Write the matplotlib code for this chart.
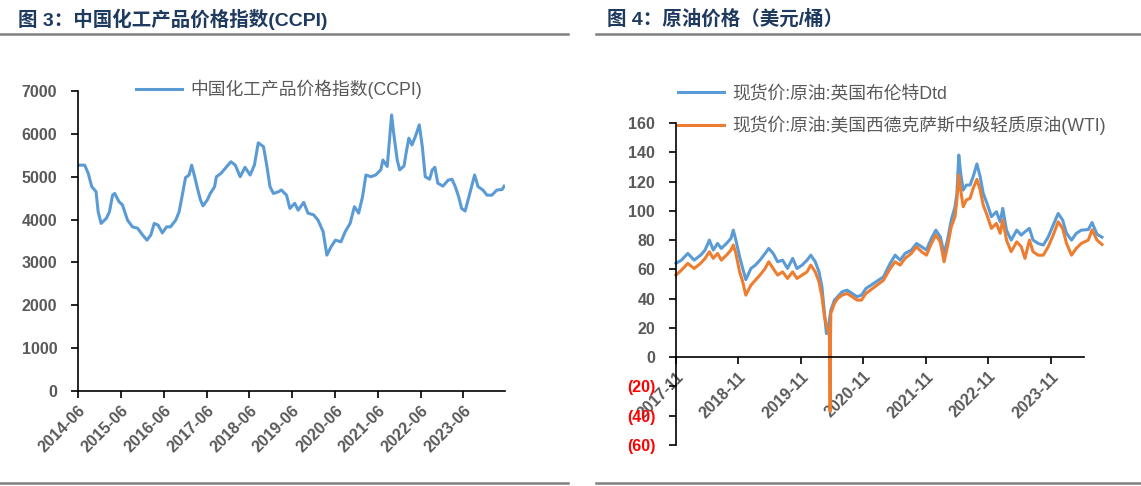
import matplotlib
matplotlib.use("Agg")
import matplotlib.pyplot as plt
import pandas as pd

plt.rcParams['font.family'] = ['Liberation Sans', 'Noto Sans CJK SC', 'DejaVu Sans']

# ---- data: CCPI ----
ccpi_dates = ["2014-06-01", "2014-07-28", "2014-08-27", "2014-09-26", "2014-11-02", "2014-11-20",
              "2014-12-15", "2015-01-29", "2015-02-24", "2015-03-23", "2015-04-10", "2015-05-16",
              "2015-06-15", "2015-07-28", "2015-09-08", "2015-10-21", "2015-12-04", "2016-01-10",
              "2016-02-12", "2016-03-12", "2016-04-14", "2016-05-20", "2016-06-26", "2016-07-29",
              "2016-09-12", "2016-10-10", "2016-11-09", "2016-12-04", "2017-01-03", "2017-01-25",
              "2017-02-20", "2017-03-19", "2017-04-10", "2017-05-02", "2017-06-08", "2017-07-03",
              "2017-08-09", "2017-08-24", "2017-10-03", "2017-11-09", "2017-12-26", "2018-02-01",
              "2018-03-15", "2018-04-25", "2018-06-08", "2018-07-14", "2018-08-16", "2018-09-30",
              "2018-10-29", "2018-11-24", "2018-12-23", "2019-02-05", "2019-03-01", "2019-04-14",
              "2019-05-13", "2019-06-23", "2019-07-22", "2019-09-08", "2019-10-14", "2019-12-01",
              "2020-01-07", "2020-02-20", "2020-03-23", "2020-04-29", "2020-06-04", "2020-07-21",
              "2020-08-27", "2020-10-07", "2020-11-13", "2020-12-19", "2021-01-21", "2021-02-19",
              "2021-04-03", "2021-05-13", "2021-06-26", "2021-07-14", "2021-08-20", "2021-09-26",
              "2021-10-14", "2021-11-13", "2021-12-04", "2022-01-10", "2022-01-25", "2022-02-20",
              "2022-03-19", "2022-04-21", "2022-05-20", "2022-06-15", "2022-07-10", "2022-08-16",
              "2022-09-08", "2022-09-30", "2022-10-25", "2022-12-08", "2023-01-21", "2023-02-23",
              "2023-03-23", "2023-04-21", "2023-05-16", "2023-06-15", "2023-07-21", "2023-09-04",
              "2023-10-03", "2023-11-13", "2023-12-19", "2024-01-29", "2024-03-12", "2024-04-25",
              "2024-05-13"]
ccpi_values = [5270, 5270, 5080, 4770, 4650, 4180, 3910, 4030, 4180, 4570, 4610, 4420,
               4340, 3990, 3830, 3800, 3640, 3520, 3640, 3910, 3870, 3690, 3830, 3830,
               3990, 4180, 4610, 4980, 5040, 5270, 5000, 4690, 4460, 4320, 4460, 4610,
               4770, 5000, 5080, 5200, 5350, 5270, 5000, 5220, 5040, 5270, 5790, 5700,
               5240, 4770, 4610, 4650, 4690, 4570, 4260, 4380, 4220, 4400, 4150, 4110,
               3990, 3720, 3170, 3370, 3520, 3480, 3720, 3910, 4300, 4150, 4530, 5040,
               5000, 5040, 5160, 5390, 5240, 6440, 6010, 5390, 5160, 5250, 5510, 5900,
               5740, 5970, 6210, 5700, 5000, 4940, 5160, 5220, 4850, 4780, 4920, 4940,
               4770, 4530, 4260, 4200, 4570, 5040, 4770, 4690, 4570, 4570, 4690, 4700,
               4780]
ccpi_label = "中国化工产品价格指数(CCPI)"
ccpi_ticks = ["2014-06", "2015-06", "2016-06", "2017-06", "2018-06", "2019-06",
              "2020-06", "2021-06", "2022-06", "2023-06"]

# ---- data: crude oil ----
brent_dates = ["2017-11-01", "2017-12-03", "2018-01-09", "2018-02-15", "2018-03-25", "2018-04-20",
               "2018-05-15", "2018-06-07", "2018-07-02", "2018-07-24", "2018-08-23", "2018-09-18",
               "2018-10-02", "2018-10-17", "2018-11-08", "2018-11-26", "2018-12-14", "2019-01-13",
               "2019-02-08", "2019-03-07", "2019-04-06", "2019-04-27", "2019-05-23", "2019-06-18",
               "2019-07-17", "2019-08-15", "2019-09-14", "2019-10-09", "2019-11-08", "2019-12-07",
               "2019-12-29", "2020-01-24", "2020-02-15", "2020-03-03", "2020-03-18", "2020-03-29",
               "2020-04-09", "2020-04-24", "2020-05-15", "2020-06-03", "2020-06-29", "2020-07-28",
               "2020-08-27", "2020-09-25", "2020-10-20", "2020-11-15", "2021-02-26", "2021-04-06",
               "2021-05-05", "2021-06-03", "2021-07-02", "2021-08-08", "2021-09-07", "2021-10-06",
               "2021-11-04", "2021-12-03", "2021-12-29", "2022-01-24", "2022-02-15", "2022-03-07",
               "2022-03-29", "2022-04-20", "2022-05-01", "2022-05-12", "2022-05-23", "2022-06-07",
               "2022-06-25", "2022-07-17", "2022-08-04", "2022-08-26", "2022-09-14", "2022-10-02",
               "2022-10-24", "2022-11-19", "2022-12-18", "2023-01-09", "2023-01-24", "2023-02-15",
               "2023-03-14", "2023-04-16", "2023-05-12", "2023-06-03", "2023-06-29", "2023-07-20",
               "2023-08-19", "2023-09-18", "2023-10-17", "2023-11-15", "2023-12-14", "2024-01-09",
               "2024-02-01", "2024-03-01", "2024-03-29", "2024-04-27", "2024-06-07", "2024-06-29",
               "2024-07-28", "2024-08-26"]
brent_values = [64.1, 66.3, 70.9, 66.3, 69.7, 73.2, 80.0, 73.2, 77.7, 74.3, 77.7, 81.1,
                86.8, 80.0, 68.6, 60.6, 53.0, 60.6, 62.9, 66.3, 70.9, 74.3, 70.9, 65.2,
                66.3, 60.6, 67.5, 60.6, 62.9, 66.3, 69.7, 65.2, 58.3, 48.1, 29.9, 16.2,
                19.6, 32.1, 39.0, 41.3, 44.7, 45.8, 43.5, 41.3, 42.4, 46.9, 54.9, 64.1,
                69.7, 66.3, 70.9, 73.2, 77.7, 75.5, 73.2, 81.1, 86.8, 82.2, 70.9, 80.0,
                93.7, 102.8, 111.9, 138.1, 125.6, 114.2, 117.6, 117.6, 123.3, 132.0, 123.3, 111.9,
                105.1, 96.0, 99.4, 92.5, 101.7, 86.8, 80.0, 86.8, 83.4, 85.7, 88.0, 80.0,
                77.7, 76.6, 82.2, 90.3, 98.2, 93.7, 84.6, 80.0, 84.6, 86.8, 87.2, 92.0,
                84.0, 82.0]
wti_dates = ["2017-11-01", "2017-12-03", "2018-01-09", "2018-02-15", "2018-03-25", "2018-04-20",
             "2018-05-15", "2018-06-07", "2018-07-02", "2018-07-24", "2018-08-23", "2018-09-18",
             "2018-10-02", "2018-10-17", "2018-11-08", "2018-11-26", "2018-12-14", "2019-01-13",
             "2019-02-08", "2019-03-07", "2019-04-06", "2019-04-27", "2019-05-23", "2019-06-18",
             "2019-07-17", "2019-08-15", "2019-09-14", "2019-10-09", "2019-11-08", "2019-12-07",
             "2019-12-29", "2020-01-24", "2020-02-15", "2020-03-03", "2020-03-18", "2020-03-29",
             "2020-04-09", "2020-04-16", "2020-04-20", "2020-04-22", "2020-04-24", "2020-05-15",
             "2020-06-03", "2020-06-29", "2020-07-28", "2020-08-27", "2020-09-25", "2020-10-20",
             "2020-11-15", "2021-02-26", "2021-04-06", "2021-05-05", "2021-06-03", "2021-07-02",
             "2021-08-08", "2021-09-07", "2021-10-06", "2021-11-04", "2021-12-03", "2021-12-29",
             "2022-01-24", "2022-02-15", "2022-03-07", "2022-03-29", "2022-04-20", "2022-05-01",
             "2022-05-12", "2022-05-23", "2022-06-07", "2022-06-25", "2022-07-17", "2022-08-04",
             "2022-08-26", "2022-09-14", "2022-10-02", "2022-10-24", "2022-11-19", "2022-12-18",
             "2023-01-09", "2023-01-24", "2023-02-15", "2023-03-14", "2023-04-16", "2023-05-12",
             "2023-06-03", "2023-06-29", "2023-07-20", "2023-08-19", "2023-09-18", "2023-10-17",
             "2023-11-15", "2023-12-14", "2024-01-09", "2024-02-01", "2024-03-01", "2024-03-29",
             "2024-04-27", "2024-06-07", "2024-06-29", "2024-07-28", "2024-08-26"]
wti_values = [56.1, 59.5, 64.1, 60.6, 64.1, 67.5, 72.0, 67.5, 70.9, 66.3, 69.7, 73.2,
              76.6, 70.9, 58.3, 51.5, 42.4, 49.2, 52.6, 56.1, 60.6, 65.2, 60.6, 56.1,
              58.3, 53.8, 58.3, 53.8, 56.1, 58.3, 62.9, 58.3, 51.5, 41.3, 27.6, 21.9,
              18.0, 14.0, -37.0, 12.0, 29.9, 36.7, 40.1, 42.4, 43.5, 41.3, 39.0, 39.0,
              43.5, 52.6, 60.6, 65.2, 62.9, 67.5, 70.9, 75.5, 72.1, 69.7, 77.7, 83.4,
              78.8, 65.2, 75.5, 89.1, 96.0, 107.4, 124.4, 114.2, 102.8, 107.4, 108.5, 115.3,
              121.5, 114.2, 103.9, 97.1, 88.0, 91.4, 84.6, 93.7, 80.0, 72.1, 78.8, 75.5,
              67.5, 80.0, 72.1, 69.7, 69.7, 75.5, 83.4, 92.5, 88.0, 77.7, 69.7, 74.4,
              77.7, 80.0, 87.0, 80.0, 77.0]
brent_label = "现货价:原油:英国布伦特Dtd"
wti_label = "现货价:原油:美国西德克萨斯中级轻质原油(WTI)"
oil_ticks = ["2017-11", "2018-11", "2019-11", "2020-11", "2021-11", "2022-11", "2023-11"]
oil_yticks = [-60, -40, -20, 0, 20, 40, 60, 80, 100, 120, 140, 160]

BLUE = "#5B9BD5"
ORANGE = "#ED7D31"
GREY = "#595959"
NAVY = "#1F3A5F"

W, H = 1141, 486
fig = plt.figure(figsize=(W / 100, H / 100), dpi=100)


def px(x0, y0, x1, y1):
    return [x0 / W, 1 - y1 / H, (x1 - x0) / W, (y1 - y0) / H]


def style(ax):
    for s in ['top', 'right']:
        ax.spines[s].set_visible(False)
    for s in ['left', 'bottom']:
        ax.spines[s].set_color('black')
        ax.spines[s].set_linewidth(1.2)
    ax.tick_params(direction='out', length=5, width=1.2, color='black',
                   labelcolor=GREY, labelsize=11.5)
    ax.tick_params(axis='y', pad=10)


leg_prop = {'size': 12.8, 'weight': 'normal'}

# ---- left chart ----
ax1 = fig.add_axes(px(78, 91, 505, 391))
ax1.plot(pd.to_datetime(ccpi_dates), ccpi_values, color=BLUE, lw=2.2, label=ccpi_label)
ax1.set_ylim(0, 7000)
ax1.set_yticks(range(0, 7001, 1000))
ax1.set_yticklabels([str(v) for v in range(0, 7001, 1000)], fontweight='bold')
ax1.set_xlim(pd.Timestamp("2014-06-01"), pd.Timestamp("2024-05-20"))
ax1.set_xticks(pd.to_datetime(ccpi_ticks))
ax1.set_xticklabels(ccpi_ticks, rotation=45, ha='right', rotation_mode='anchor', fontweight='bold')
style(ax1)
ax1.legend(loc='upper left', bbox_to_anchor=(136 / W, 1 - 80 / H), bbox_transform=fig.transFigure,
           frameon=False, borderpad=0, borderaxespad=0, handlelength=2.6, handletextpad=0.45,
           prop=leg_prop, labelcolor=GREY)

# ---- right chart ----
ax2 = fig.add_axes(px(676, 123, 1084, 445))
ax2.spines['bottom'].set_position(('data', 0))
ax2.plot(pd.to_datetime(brent_dates), brent_values, color=BLUE, lw=2.2, label=brent_label, clip_on=False)
ax2.plot(pd.to_datetime(wti_dates), wti_values, color=ORANGE, lw=2.2, label=wti_label, clip_on=False)
ax2.set_ylim(-60, 160)
ax2.set_yticks(oil_yticks)
ax2.set_yticklabels([f"({-v})" if v < 0 else str(v) for v in oil_yticks], fontweight='bold')
ax2.set_xlim(pd.Timestamp("2017-11-01"), pd.Timestamp("2024-05-13"))
ax2.set_xticks(pd.to_datetime(oil_ticks))
ax2.set_xticklabels(oil_ticks, rotation=45, ha='right', rotation_mode='anchor', fontweight='bold')
style(ax2)
for v, lab in zip(oil_yticks, ax2.get_yticklabels()):
    if v < 0:
        lab.set_color('red')
ax2.legend(loc='upper left', bbox_to_anchor=(678 / W, 1 - 85 / H), bbox_transform=fig.transFigure,
           frameon=False, borderpad=0, borderaxespad=0, handlelength=2.6, handletextpad=0.45,
           labelspacing=0.75, prop=leg_prop, labelcolor=GREY)

# ---- titles and rules ----
fig.text(18 / W, 1 - 19 / H, "图 3：中国化工产品价格指数(CCPI)", color=NAVY, fontsize=14,
         fontweight='bold', va='center', ha='left')
fig.text(607 / W, 1 - 19 / H, "图 4：原油价格（美元/桶）", color=NAVY, fontsize=14,
         fontweight='bold', va='center', ha='left')
for x0, x1 in [(0, 568), (596, 1141)]:
    for y in (34, 483):
        fig.add_artist(plt.Line2D([x0 / W, x1 / W], [1 - y / H, 1 - y / H],
                                  color='#808080', lw=1.8, transform=fig.transFigure))

fig.savefig("out.png", dpi=100)
